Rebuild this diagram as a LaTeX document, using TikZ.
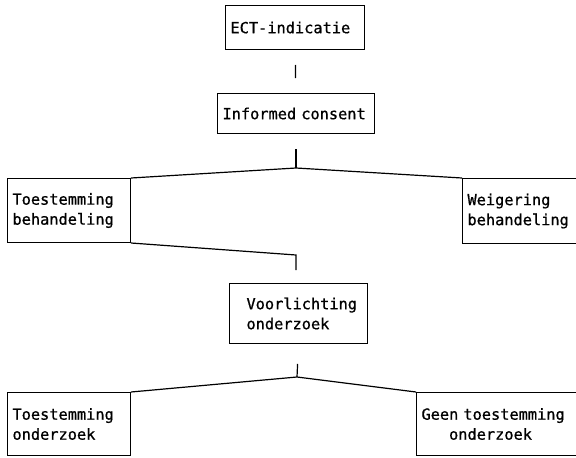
\documentclass[tikz,border=0pt]{standalone}
\usepackage{fontspec}
\setmainfont{DejaVu Sans Mono}[WordSpace={1,0,0}, FakeBold=0.8]
\usepackage{tikz}

\begin{document}
\begin{tikzpicture}[x=1pt, y=-1pt, line width=1pt,
  blok/.style = {draw, anchor=north west, align=left, inner xsep=5pt, inner ysep=0pt,
                 font=\fontsize{15.3}{20}\selectfont},
  lijn/.style = {line width=1.2pt}]
\useasboundingbox (0,0) rectangle (576,458);
\node[blok, text width=129pt, minimum height=44pt] (ect) at (225,5) {ECT-indicatie};
\node[blok, text width=147pt, minimum height=40pt] (cons) at (217,93) {Informed consent};
\node[blok, text width=113pt, minimum height=64pt] (tbeh) at (7,178) {Toestemming\\behandeling};
\node[blok, text width=150pt, minimum height=65pt] (wbeh) at (462,178) {Weigering\\behandeling};
\node[blok, text width=128pt, minimum height=60pt] (voor) at (229,283) {\hspace*{12pt}Voorlichting\\\hspace*{12pt}onderzoek};
\node[blok, text width=113pt, minimum height=63pt] (tond) at (7,392) {Toestemming\\onderzoek};
\node[blok, text width=190pt, minimum height=63pt] (gond) at (416,392) {Geen toestemming\\\hspace*{27.6pt}onderzoek};
\coordinate (s1) at (296,168);
\coordinate (s2) at (296,255);
\coordinate (s3) at (297,377);
\draw[lijn, shorten >=15pt, shorten <=15pt] (ect) -- (cons);
\draw[lijn, shorten <=15pt] (cons.south) -- (s1);
\draw[lijn] (tbeh.north east) -- (s1) -- (wbeh.north west);
\draw[lijn, shorten >=13pt] (tbeh.south east) -- (s2) -- (s2 |- voor.north);
\draw[lijn, shorten <=20pt] (voor.south) -- (s3);
\draw[lijn] (tond.north east) -- (s3) -- (gond.north west);
\end{tikzpicture}
\end{document}
